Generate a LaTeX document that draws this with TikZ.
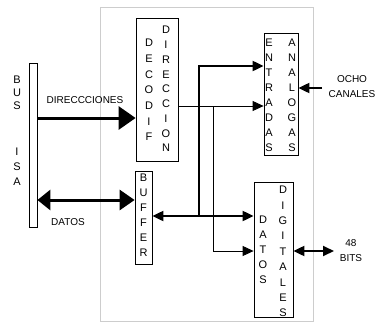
\documentclass[tikz,border=0pt]{standalone}
\usepackage{fontspec}
\setmainfont{Liberation Sans}
\usepackage{tikz}
\usetikzlibrary{arrows.meta}
\definecolor{frameGray}{RGB}{205, 205, 205}

\begin{document}
\begin{tikzpicture}[x=1pt, y=-1pt,
  box/.style={draw, line width=0.8pt, inner sep=0pt},
  letters/.style={align=center, inner sep=0pt, font=\fontsize{11}{#1}\selectfont},
  lbl/.style={align=center, inner sep=0pt, font=\fontsize{10}{15}\selectfont},
  bigbus/.style={line width=3pt, -{Triangle[length=17pt, width=23pt]}},
  datbus/.style={line width=3pt, {Triangle[length=13pt, width=20pt]}-{Triangle[length=15pt, width=20pt]}},
  thickbus/.style={line width=2pt},
  thinbus/.style={line width=0.8pt},
  tip/.style={-{Triangle[length=11pt, width=10pt]}},
  tips/.style={{Triangle[length=11pt, width=10pt]}-{Triangle[length=11pt, width=10pt]}}
]
  \useasboundingbox (0,0) rectangle (381,322);

  % ── tarjeta ──
  \draw[frameGray, line width=0.8pt] (100,7) rectangle (313,321);

  % ── bus ISA ──
  \node[box, minimum width=8, minimum height=164] (bus) at (33,145) {};
  \node[letters=13] (busTxt) at (17,93) {B\\U\\S};
  \node[letters=15] (isaTxt) at (17,167) {I\\S\\A};

  % ── bloques ──
  \node[box, minimum width=42, minimum height=143] (decodif) at (157,89.5) {};
  \node[letters=15.7] (decTxt) at (149,90) {D\\E\\C\\O\\D\\I\\F};
  \node[letters=14.75] (dirTxt) at (166,89) {D\\I\\R\\E\\C\\C\\I\\O\\N};

  \node[box, minimum width=17, minimum height=93] (buffer) at (143.5,217.5) {};
  \node[letters=15] (bufTxt) at (143.5,215.5) {B\\U\\F\\F\\E\\R};

  \node[box, minimum width=34, minimum height=122] (entradas) at (281,94) {};
  \node[letters=15] (entTxt) at (269,95.5) {E\\N\\T\\R\\A\\D\\A\\S};
  \node[letters=15] (anaTxt) at (292,95.5) {A\\N\\A\\L\\O\\G\\A\\S};

  \node[box, minimum width=39, minimum height=135] (digitales) at (273.5,249.5) {};
  \node[letters=15] (datTxt) at (263,250) {D\\A\\T\\O\\S};
  \node[letters=15.4] (digTxt) at (283,251.5) {D\\I\\G\\I\\T\\A\\L\\E\\S};

  % ── puntos de paso ──
  \coordinate (dirY) at (0,118);
  \coordinate (datY) at (0,200);
  \coordinate (thinY) at (0,106);
  \coordinate (thinC) at (213,251);
  \coordinate (thickY) at (0,216);
  \coordinate (thickC) at (199,66);
  \coordinate (ochoY) at (0,88);
  \coordinate (ocho) at (322,88);
  \coordinate (bits) at (334,251);

  % ── direcciones y datos ──
  \draw[bigbus] (bus.east |- dirY) -- (decodif.west |- dirY);
  \node[lbl] (dirLbl) at (85,100) {DIRECCCIONES};
  \draw[datbus] (bus.east |- datY) -- (buffer.west |- datY);
  \node[lbl] (datLbl) at (68,222) {DATOS};

  % ── lineas internas ──
  \draw[thinbus, tip] (decodif.east |- thinY) -- (entradas.west |- thinY);
  \draw[thinbus, tip] (thinC |- thinY) -- (thinC) -- (digitales.west |- thinC);
  \draw[thickbus, tips] (buffer.east |- thickY) -- (digitales.west |- thickY);
  \draw[thickbus, tip] (thickC |- thickY) -- (thickC) -- (entradas.west |- thickC);

  % ── externas ──
  \draw[thickbus, tip] (ocho) -- (entradas.east |- ochoY);
  \node[lbl] (ochoLbl) at (352,87) {OCHO\\CANALES};
  \draw[thickbus, tips] (digitales.east |- bits) -- (bits);
  \node[lbl] (bitsLbl) at (351,251) {48\\BITS};
\end{tikzpicture}
\end{document}
